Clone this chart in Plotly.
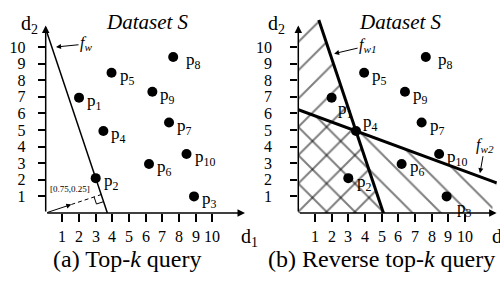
import plotly.graph_objects as go

# ---------------- data ----------------
point_names = ["1", "2", "3", "4", "5", "6", "7", "8", "9", "10"]
point_x = [2.0, 3.0, 8.9, 3.46, 3.95, 6.2, 7.4, 7.65, 6.4, 8.45]
point_y = [6.95, 2.1, 1.0, 4.94, 8.45, 2.95, 5.45, 9.4, 7.3, 3.55]
weights_a = [0.75, 0.25]      # f_w  (left)
weights_b1 = [0.75, 0.25]     # f_w1 (right)
weights_b2 = [0.27, 0.73]     # f_w2 (right)
tick_values = [1, 2, 3, 4, 5, 6, 7, 8, 9, 10]
tick_labels = ["1", "2", "3", "4", "5", "6", "7", "8", "9", "10"]
captions = ["(a) Top-<i>k</i> query", "(b) Reverse top-<i>k</i> query"]
panel_title = "<i>Dataset S</i>"
weight_label = "[0.75,0.25]"

FONT = "Liberation Serif"
BLACK = "black"

fig = go.Figure()


def score(w, i):
    return w[0] * point_x[i] + w[1] * point_y[i]


def x_at(w, c, y):
    return (c - w[1] * y) / w[0]


def y_at(w, c, x):
    return (c - w[0] * x) / w[1]


# ---------------- left panel ----------------
ca = score(weights_a, 1)  # through p2
fig.add_trace(go.Scatter(x=[0, x_at(weights_a, ca, 0)], y=[y_at(weights_a, ca, 0), 0],
                         mode="lines", line=dict(color=BLACK, width=1.5),
                         xaxis="x", yaxis="y", showlegend=False, hoverinfo="skip"))
# weight vector
ww = weights_a[0] ** 2 + weights_a[1] ** 2
t_foot = ca / ww
foot = (weights_a[0] * t_foot, weights_a[1] * t_foot)
t_arrow = 2.05
arr = (weights_a[0] * t_arrow, weights_a[1] * t_arrow)
fig.add_trace(go.Scatter(x=[arr[0], foot[0]], y=[arr[1], foot[1]], mode="lines",
                         line=dict(color=BLACK, width=1, dash="4px,3px"),
                         xaxis="x", yaxis="y", showlegend=False, hoverinfo="skip"))
# right angle marker
nrm = ww ** 0.5
u = (weights_a[0] / nrm, weights_a[1] / nrm)
v = (weights_a[1] / nrm, -weights_a[0] / nrm)
s = 0.45
fig.add_trace(go.Scatter(
    x=[foot[0] - s * u[0], foot[0] - s * u[0] + s * v[0], foot[0] + s * v[0]],
    y=[foot[1] - s * u[1], foot[1] - s * u[1] + s * v[1], foot[1] + s * v[1]],
    mode="lines", line=dict(color=BLACK, width=1),
    xaxis="x", yaxis="y", showlegend=False, hoverinfo="skip"))

# ---------------- right panel ----------------
c1 = score(weights_b1, 3)  # through p4
c2 = score(weights_b2, 3)
ytop1 = 11.63
xend2 = 11.9
xaxis_end_b = 11.6
pat = dict(fgcolor=BLACK, bgcolor="rgba(0,0,0,0)", size=20, solidity=0.1)
# hatched region under f_w1
fig.add_trace(go.Scatter(
    x=[0, x_at(weights_b1, c1, 0), x_at(weights_b1, c1, ytop1), 0, 0],
    y=[0, 0, ytop1, ytop1, 0], mode="lines", fill="toself",
    fillcolor="rgba(0,0,0,0)", line=dict(width=0, color="rgba(0,0,0,0)"),
    fillpattern=dict(shape="/", **pat),
    xaxis="x2", yaxis="y2", showlegend=False, hoverinfo="skip"))
# hatched region under f_w2
fig.add_trace(go.Scatter(
    x=[0, 0, xend2, xaxis_end_b, 0],
    y=[0, y_at(weights_b2, c2, 0), y_at(weights_b2, c2, xend2), 0, 0], mode="lines", fill="toself",
    fillcolor="rgba(0,0,0,0)", line=dict(width=0, color="rgba(0,0,0,0)"),
    fillpattern=dict(shape="\\", **pat),
    xaxis="x2", yaxis="y2", showlegend=False, hoverinfo="skip"))
fig.add_trace(go.Scatter(x=[x_at(weights_b1, c1, ytop1), x_at(weights_b1, c1, 0)], y=[ytop1, 0],
                         mode="lines", line=dict(color=BLACK, width=3),
                         xaxis="x2", yaxis="y2", showlegend=False, hoverinfo="skip"))
fig.add_trace(go.Scatter(x=[0, xend2], y=[y_at(weights_b2, c2, 0), y_at(weights_b2, c2, xend2)],
                         mode="lines", line=dict(color=BLACK, width=3),
                         xaxis="x2", yaxis="y2", showlegend=False, hoverinfo="skip"))

# points
for xa, ya in (("x", "y"), ("x2", "y2")):
    fig.add_trace(go.Scatter(x=point_x, y=point_y, mode="markers",
                             marker=dict(color=BLACK, size=10),
                             xaxis=xa, yaxis=ya, showlegend=False, hoverinfo="skip"))

ann = []
label_font = dict(family=FONT, size=17, color=BLACK)
default_shift = (6, -4)
overrides = {
    ("x", 7): (11, -4),
    ("x2", 7): (10, -4),
    ("x2", 0): (4, -12),
    ("x2", 2): (8, -13),
    ("x2", 3): (5, 8),
    ("x2", 1): (7, -5),
}
for xa, ya in (("x", "y"), ("x2", "y2")):
    for i, n in enumerate(point_names):
        dx, dy = overrides.get((xa, i), default_shift)
        ann.append(dict(x=point_x[i], y=point_y[i], xref=xa, yref=ya, text="p<sub>%s</sub>" % n,
                        showarrow=False, xanchor="left", yanchor="middle", xshift=dx, yshift=dy,
                        font=label_font))

# x tick labels, set well below the tick marks as in the reference
Y_UNIT_PX = 16.6
tick_label_y = -24 / Y_UNIT_PX
tick_font = dict(family=FONT, size=16, color=BLACK)
for xa, ya in (("x", "y"), ("x2", "y2")):
    for tv, tl in zip(tick_values, tick_labels):
        ann.append(dict(x=tv, y=tick_label_y, xref=xa, yref=ya, text=tl, showarrow=False,
                        xanchor="center", yanchor="middle", font=tick_font))

# axes arrows
for xa, ya, xend in (("x", "y", 11.96), ("x2", "y2", 11.9)):
    ann.append(dict(x=xend, y=0, ax=0, ay=0, xref=xa, yref=ya, axref=xa, ayref=ya, text="",
                    showarrow=True, arrowhead=2, arrowsize=1, arrowwidth=1.5, arrowcolor=BLACK))
    ann.append(dict(x=0, y=11.3, ax=0, ay=0, xref=xa, yref=ya, axref=xa, ayref=ya, text="",
                    showarrow=True, arrowhead=2, arrowsize=1, arrowwidth=1.5, arrowcolor=BLACK))
# weight vector arrow
ann.append(dict(x=arr[0], y=arr[1], ax=0, ay=0, xref="x", yref="y", axref="x", ayref="y", text="",
                showarrow=True, arrowhead=2, arrowsize=1, arrowwidth=1, arrowcolor=BLACK))
ann.append(dict(x=0.15, y=1.45, xref="x", yref="y", text=weight_label, showarrow=False,
                xanchor="left", yanchor="middle", font=dict(family=FONT, size=9, color=BLACK)))

# function labels
fl = dict(family=FONT, size=16, color=BLACK)
ann.append(dict(x=0.62, y=10.0, xref="x", yref="y", text="<i>f<sub>w</sub></i>", showarrow=True,
                ax=30, ay=-3, arrowhead=2, arrowsize=1, arrowwidth=1, arrowcolor=BLACK, font=fl))
ann.append(dict(x=2.15, y=9.6, xref="x2", yref="y2", text="<i>f<sub>w1</sub></i>", showarrow=True,
                ax=34, ay=-8, arrowhead=2, arrowsize=1, arrowwidth=1, arrowcolor=BLACK, font=fl))
ann.append(dict(x=10.9, y=2.4, xref="x2", yref="y2", text="<i>f<sub>w2</sub></i>", showarrow=True,
                ax=5, ay=-28, arrowhead=2, arrowsize=1, arrowwidth=1, arrowcolor=BLACK, font=fl))

# axis names, titles, captions (paper coords in pixels)
W, H = 500, 282


def pp(xpx, ypx):
    return xpx / W, 1 - ypx / H


dfont = dict(family=FONT, size=20, color=BLACK)
for x0 in (19, 266):
    x, y = pp(x0, 24)
    ann.append(dict(x=x, y=y, xref="paper", yref="paper", text="d<sub>2</sub>", showarrow=False,
                    xanchor="left", yanchor="middle", font=dfont))
for x0 in (239, 490):
    x, y = pp(x0, 237)
    ann.append(dict(x=x, y=y, xref="paper", yref="paper", text="d<sub>1</sub>", showarrow=False,
                    xanchor="left", yanchor="middle", font=dfont))
for xc in (147, 400):
    x, y = pp(xc, 22)
    ann.append(dict(x=x, y=y, xref="paper", yref="paper", text=panel_title, showarrow=False,
                    xanchor="center", yanchor="middle", font=dict(family=FONT, size=21, color=BLACK)))
for xc, cap in zip((127.5, 381), captions):
    x, y = pp(xc, 259)
    ann.append(dict(x=x, y=y, xref="paper", yref="paper", text=cap, showarrow=False,
                    xanchor="center", yanchor="middle", font=dict(family=FONT, size=24, color=BLACK)))

Y_MIN, Y_MAX = -2.0, 12.0
ax_x = dict(range=[0, 12], showgrid=False, zeroline=False, showline=False,
            tickvals=tick_values, ticktext=tick_labels, ticks="outside",
            tickcolor=BLACK, tickwidth=1.5, tickfont=tick_font)
ax_y = dict(ax_x, range=[Y_MIN, Y_MAX])
y0_px = 213
ybottom = (H - (y0_px - Y_MIN * Y_UNIT_PX)) / H
ytopd = (H - (y0_px - Y_MAX * Y_UNIT_PX)) / H
fig.update_layout(
    width=W, height=H, margin=dict(l=0, r=0, t=0, b=0),
    paper_bgcolor="white", plot_bgcolor="white",
    font=dict(family=FONT, color=BLACK),
    xaxis=dict(domain=[45.7 / W, 245.7 / W], anchor="free", position=(H - y0_px) / H,
               ticklen=8, showticklabels=False, **ax_x),
    yaxis=dict(domain=[ybottom, ytopd], anchor="x", ticklen=7, ticklabelstandoff=9, **ax_y),
    xaxis2=dict(domain=[298.3 / W, 498.3 / W], anchor="free", position=(H - y0_px) / H,
                ticklen=8, showticklabels=False, **ax_x),
    yaxis2=dict(domain=[ybottom, ytopd], anchor="x2", ticklen=7, ticklabelstandoff=15, **ax_y),
    annotations=ann,
)

fig.write_html("out.html", config={"displayModeBar": False},
               post_script="document.body.style.margin='0px';document.body.style.padding='0px';")
